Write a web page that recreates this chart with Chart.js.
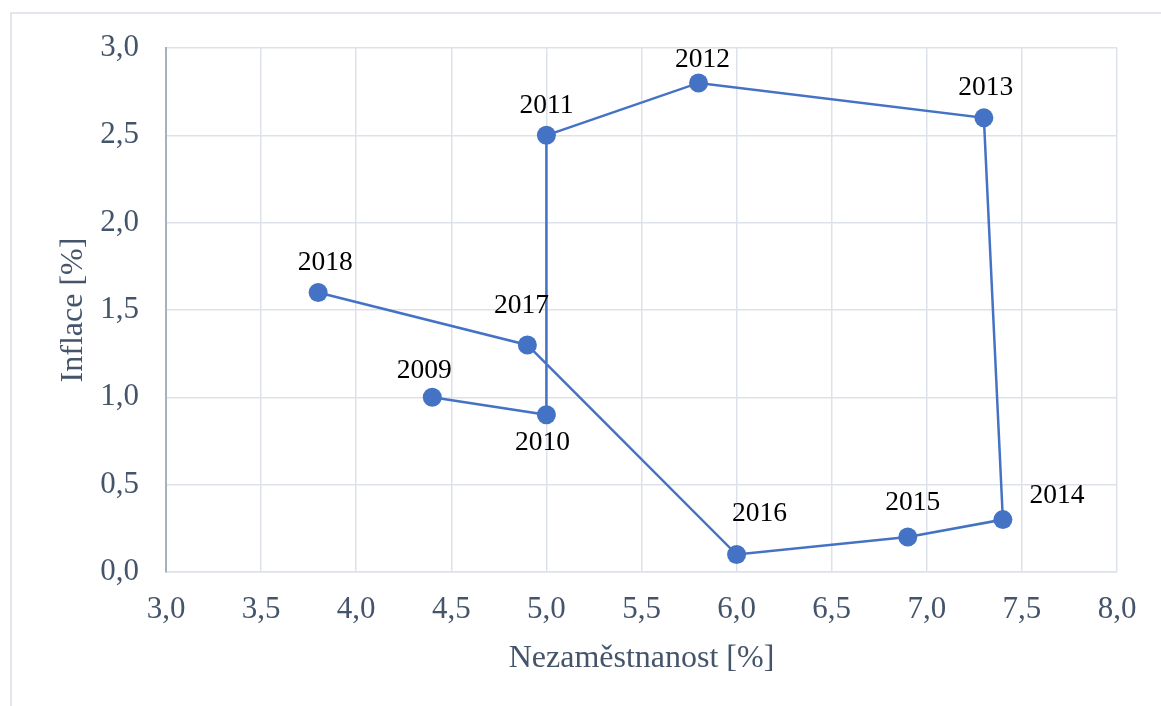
<!DOCTYPE html>
<html>
<head>
<meta charset="utf-8">
<script src="https://cdn.jsdelivr.net/npm/chart.js@4/dist/chart.umd.min.js"></script>
<style>
html,body{margin:0;padding:0;background:#fff;overflow:hidden;}
#wrap{position:relative;width:1161px;height:706px;}
#frame{position:absolute;left:10px;top:12px;width:1200px;height:760px;border:2px solid #e2e6ec;box-sizing:border-box;}
canvas{position:absolute;left:0;top:0;}
</style>
</head>
<body>
<div id="wrap">
<div id="frame"></div>
<canvas id="c" width="1161" height="706"></canvas>
</div>
<script>
const years = ['2009','2010','2011','2012','2013','2014','2015','2016','2017','2018'];
const unemployment = [4.4, 5.0, 5.0, 5.8, 7.3, 7.4, 6.9, 6.0, 4.9, 3.8];
const inflation = [1.0, 0.9, 2.5, 2.8, 2.6, 0.3, 0.2, 0.1, 1.3, 1.6];
const xAxisTitle = 'Nezaměstnanost [%]';
const yAxisTitle = 'Inflace [%]';

// label placement offsets (style only), in pixels relative to each point
const labelOffsets = [[-8,-27],[-4,28],[0,-30],[4,-23],[2,-30],[54,-24],[5,-34],[23,-41],[-6,-39],[7,-30]];

const points = unemployment.map((u, i) => ({x: u, y: inflation[i]}));

const yearLabels = {
  id: 'yearLabels',
  afterDatasetsDraw(chart) {
    const ctx = chart.ctx;
    const meta = chart.getDatasetMeta(0);
    ctx.save();
    ctx.font = '27.5px "Liberation Serif", "Times New Roman", serif';
    ctx.fillStyle = '#000';
    ctx.textAlign = 'center';
    ctx.textBaseline = 'middle';
    meta.data.forEach((el, i) => {
      const o = labelOffsets[i];
      ctx.fillText(years[i], el.x + o[0], el.y + o[1]);
    });
    ctx.restore();
  }
};

const fmt = v => Number(v).toFixed(1).replace('.', ',');
const tickFont = {family: '"Liberation Serif", "Times New Roman", serif', size: 31};
const titleFont = {family: '"Liberation Serif", "Times New Roman", serif', size: 32};
const tickColor = '#44546a';

new Chart(document.getElementById('c'), {
  type: 'scatter',
  data: {
    datasets: [{
      data: points,
      showLine: true,
      borderColor: '#4472c4',
      backgroundColor: '#4472c4',
      borderWidth: 2.5,
      pointRadius: 9.5,
      pointHoverRadius: 9.5,
      pointBorderWidth: 0,
      tension: 0
    }]
  },
  options: {
    responsive: false,
    animation: false,
    devicePixelRatio: 1,
    layout: {padding: {top: 48, right: 44, left: 0, bottom: 0}},
    plugins: {legend: {display: false}, tooltip: {enabled: false}},
    scales: {
      x: {
        type: 'linear', min: 3, max: 8,
        ticks: {stepSize: 0.5, callback: fmt, font: tickFont, color: tickColor, padding: 19, maxRotation: 0},
        grid: {color: '#dde2ea', lineWidth: 1.5, drawTicks: false},
        border: {color: '#dde2ea', width: 1.5},
        title: {display: true, text: xAxisTitle, font: titleFont, color: tickColor, padding: {top: 0, bottom: 28}},
        afterFit(s) { s.height = 134; }
      },
      y: {
        type: 'linear', min: 0, max: 3,
        ticks: {stepSize: 0.5, callback: fmt, font: tickFont, color: tickColor, padding: 27},
        grid: {color: '#dde2ea', lineWidth: 1.5, drawTicks: false},
        border: {color: '#a8b0be', width: 2},
        title: {display: true, text: yAxisTitle, font: titleFont, color: tickColor, padding: {top: 54, bottom: 0}},
        afterFit(s) { s.width = 166; }
      }
    }
  },
  plugins: [yearLabels]
});
</script>
</body>
</html>
